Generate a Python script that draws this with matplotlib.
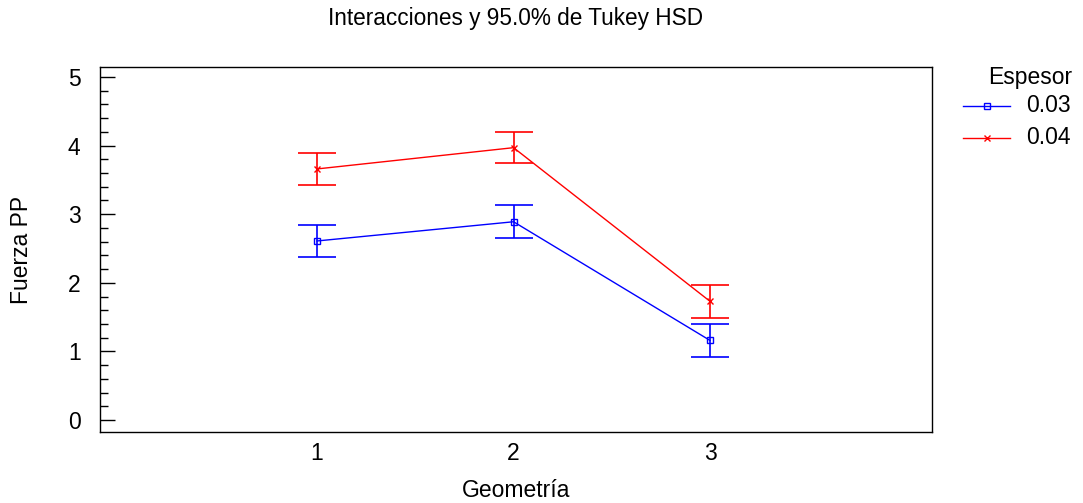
import matplotlib
matplotlib.use("Agg")
import matplotlib.pyplot as plt
from matplotlib.ticker import MultipleLocator
from matplotlib.lines import Line2D

plt.rcParams['font.family'] = ['Liberation Sans', 'DejaVu Sans']

geometria = [1, 2, 3]
series_labels = ["0.03", "0.04"]
means_003 = [2.61, 2.89, 1.16]
means_004 = [3.66, 3.97, 1.73]
halfwidth_003 = [0.235, 0.24, 0.24]
halfwidth_004 = [0.23, 0.225, 0.24]
colors = ["#0000ff", "#ff0000"]
markers = ["s", "x"]

W, H = 1083, 503
fig = plt.figure(figsize=(W / 100, H / 100), dpi=100)
ax = fig.add_axes([100 / W, 1 - 432 / H, (932 - 100) / W, (432 - 67) / H])

for means, hw, c, m in [(means_003, halfwidth_003, colors[0], markers[0]),
                         (means_004, halfwidth_004, colors[1], markers[1])]:
    ax.plot(geometria, means, color=c, lw=1.0, marker=m, ms=5,
            mfc='none', mec=c, mew=1.0, zorder=3)
    ax.errorbar(geometria, means, yerr=hw, fmt='none', ecolor=c,
                elinewidth=1.2, capsize=14, capthick=1.2, zorder=2)

ax.set_xlim(-0.105, 4.13)
ax.set_ylim(-0.175, 5.146)
ax.set_xticks(geometria)
ax.set_yticks([0, 1, 2, 3, 4, 5])
ax.yaxis.set_minor_locator(MultipleLocator(0.2))
ax.tick_params(axis='x', length=0, labelsize=16.5, pad=7)
ax.tick_params(axis='y', which='major', direction='in', length=11, width=1, labelsize=16.5, pad=14)
ax.tick_params(axis='y', which='minor', direction='in', length=6, width=1)
for s in ax.spines.values():
    s.set_linewidth(1.0)

ax.set_xlabel("Geometría", fontsize=16.5, labelpad=10)
ax.set_ylabel("Fuerza PP", fontsize=16.5, labelpad=25)
fig.text(516 / W, 1 - 18 / H, "Interacciones y 95.0% de Tukey HSD", fontsize=16.3,
         ha='center', va='center')

# legend drawn manually in figure pixels
fig.text(1072 / W, 1 - 77 / H, "Espesor", fontsize=16.5, ha='right', va='center')
for i, yy in enumerate([106, 138]):
    fig.add_artist(Line2D([963 / W, 1010 / W], [1 - yy / H, 1 - yy / H],
                          color=colors[i], lw=1.0, transform=fig.transFigure))
    fig.add_artist(Line2D([986.5 / W], [1 - yy / H], color=colors[i], marker=markers[i],
                          ms=5, mfc='none', mec=colors[i], lw=0, transform=fig.transFigure))
    fig.text(1026 / W, 1 - yy / H, series_labels[i], fontsize=16.5, ha='left', va='center')

fig.savefig("out.png", dpi=100)
